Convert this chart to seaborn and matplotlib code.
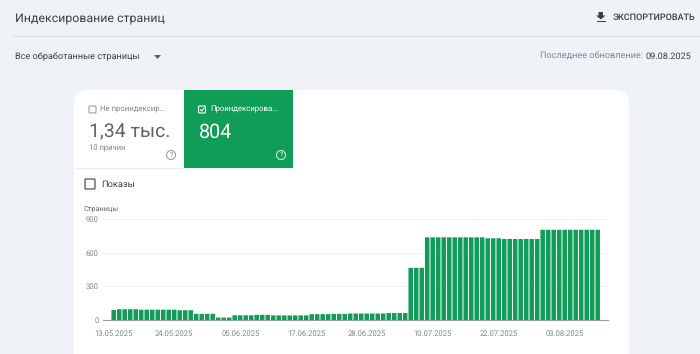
import pandas as pd
import seaborn as sns
import matplotlib.pyplot as plt
from matplotlib.patches import FancyBboxPatch, Rectangle, Circle, Polygon

# Werte
start_datum = "2025-05-13"
seiten = [
    90, 96, 96, 96, 96, 92, 92, 92, 92, 92, 92, 92, 87, 87, 87, 55, 55, 55, 55,
    22, 22, 22, 42, 42, 42, 42, 46, 46, 46, 41, 41, 41, 41, 41, 41, 41,
    52, 52, 52, 52, 55, 55, 55, 58, 58, 58, 58, 58, 58, 58, 62, 62, 62, 62,
    465, 465, 465, 737, 737, 737, 737, 737, 737, 737, 737, 737, 737, 737,
    728, 728, 728, 722, 722, 722, 722, 722, 722, 722,
    804, 804, 804, 804, 804, 804, 804, 804, 804, 804, 804,
]
tick_daten = ["13.05.2025", "24.05.2025", "05.06.2025", "17.06.2025",
              "28.06.2025", "10.07.2025", "22.07.2025", "03.08.2025"]
y_ticks = [0, 300, 600, 900]

GRUEN = "#0f9d58"
HINTERGRUND = "#eff3f8"

df = pd.DataFrame({"Datum": pd.date_range(start_datum, periods=len(seiten)), "Seiten": seiten})
df["Label"] = df["Datum"].dt.strftime("%d.%m.%Y")

sns.set_theme(style="white")
plt.rcParams["font.family"] = ["Roboto", "DejaVu Sans"]
plt.rcParams["text.hinting"] = "none"

fig = plt.figure(figsize=(7, 3.54), dpi=100, facecolor=HINTERGRUND)

# Seite als Pixel-Koordinaten
bg = fig.add_axes([0, 0, 1, 1])
bg.set_xlim(0, 700)
bg.set_ylim(354, 0)
bg.axis("off")

bg.plot([13, 700], [36, 36], color="#dfe2e6", lw=1)
bg.add_patch(FancyBboxPatch((74, 90), 555, 300, boxstyle="round,pad=0,rounding_size=14",
                            fc="white", ec="none", mutation_aspect=1))
bg.add_patch(Rectangle((184, 90), 109, 78, fc=GRUEN, ec="none"))
bg.plot([74, 184], [168, 168], color="#eceef0", lw=1)

bg.text(15, 18, "Индексирование страниц", fontsize=8.95, color="#3c4043", va="center")
bg.text(15, 56.5, "Все обработанные страницы", fontsize=6.55, color="#3c4043", va="center")
bg.add_patch(Polygon([[154, 55], [161, 55], [157.5, 59]], fc="#5f6368", ec="none"))

# Export-Symbol
bg.add_patch(Polygon([[598.5, 12], [603, 12], [603, 15.5], [605.5, 15.5], [600.8, 19.5], [596, 15.5], [598.5, 15.5]],
                     fc="#3c4043", ec="none"))
bg.add_patch(Rectangle((596.5, 20.5), 9, 1.2, fc="#3c4043", ec="none"))
bg.text(613, 17, "ЭКСПОРТИРОВАТЬ", fontsize=6.5, color="#3c4043", va="center", weight="medium")

bg.text(691, 58.5, "09.08.2025", fontsize=6.6, color="#3c4043", va="baseline", ha="right")
bg.text(643, 58.5, "Последнее обновление:", fontsize=6.6, color="#80868b", va="baseline", ha="right")

# linke Kachel
bg.add_patch(FancyBboxPatch((89, 106), 7, 7, boxstyle="round,pad=0,rounding_size=1",
                            fc="white", ec="#9aa0a6", lw=0.8))
bg.text(100, 109.5, "Не проиндексир...", fontsize=5.6, color="#80868b", va="center")
bg.text(89, 132, "1,34 тыс.", fontsize=14, color="#5f6368", va="center")
bg.text(89, 148.5, "10 причин", fontsize=5.5, color="#80868b", va="center")
bg.add_patch(Circle((171, 155), 4.5, fc="none", ec="#9aa0a6", lw=0.8))
bg.text(171, 155.2, "?", fontsize=5, color="#80868b", ha="center", va="center")

# rechte Kachel
bg.add_patch(FancyBboxPatch((198.5, 106), 7, 7, boxstyle="round,pad=0,rounding_size=1",
                            fc="none", ec="white", lw=0.8))
bg.plot([200.3, 201.7, 204.2], [109.5, 111, 108], color="white", lw=0.8)
bg.text(210, 109.5, "Проиндексирова...", fontsize=5.6, color="white", va="center")
bg.text(198.5, 132, "804", fontsize=14.2, color="white", va="center")
bg.add_patch(Circle((281, 155), 4.5, fc="none", ec="#cfe8da", lw=0.8))
bg.text(281, 155.2, "?", fontsize=5, color="#cfe8da", ha="center", va="center")

# Checkbox Показы
bg.add_patch(FancyBboxPatch((85, 179), 10, 10, boxstyle="round,pad=0,rounding_size=1",
                            fc="white", ec="#5f6368", lw=1))
bg.text(101.5, 184.5, "Показы", fontsize=6.7, color="#3c4043", va="center")
bg.text(84, 209, "Страницы", fontsize=5.3, color="#5f6368", va="center")

# Diagramm
links, rechts, oben, unten = 103, 608, 219, 320
ax = fig.add_axes([links / 700, 1 - unten / 354, (rechts - links) / 700, (unten - oben) / 354])
ax.patch.set_alpha(0)

sns.barplot(data=df, x="Label", y="Seiten", color=GRUEN, saturation=1, width=0.82,
            linewidth=0, edgecolor="none", ax=ax, zorder=3)
# sonst verschwinden die schmalen Luecken beim Runden auf Pixel
for balken in ax.patches:
    balken.set_snap(False)

ax.set_xlim(-1.95, 89.87)
ax.set_ylim(0, 900)
ax.set_yticks(y_ticks)
ax.set_xticks([df.index[df["Label"] == d][0] for d in tick_daten])
ax.set_xticklabels(tick_daten)
ax.set_xlabel("")
ax.set_ylabel("")
ax.tick_params(axis="x", length=0, pad=7, labelsize=5.5, labelcolor="#80868b")
ax.tick_params(axis="y", length=0, pad=3, labelsize=5.5, labelcolor="#80868b")
ax.grid(axis="y", color="#f1f3f4", lw=0.8, zorder=0)
ax.grid(axis="x", visible=False)
sns.despine(ax=ax, left=True, top=True, right=True)
ax.spines["bottom"].set_color("#9aa0a6")
ax.spines["bottom"].set_linewidth(0.8)

fig.savefig("out.png", dpi=100, facecolor=HINTERGRUND)
